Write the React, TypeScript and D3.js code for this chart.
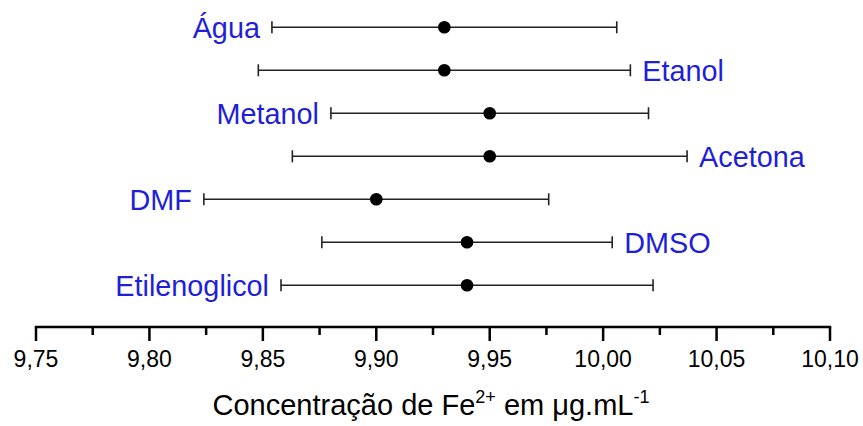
import React from "react";
import * as d3 from "d3";

// Fe2+ concentration measured in each solvent (µg/mL), with its uncertainty
const solvents = ["Água", "Etanol", "Metanol", "Acetona", "DMF", "DMSO", "Etilenoglicol"];
const means = [9.93, 9.93, 9.95, 9.95, 9.90, 9.94, 9.94];
const errors = [0.076, 0.082, 0.070, 0.087, 0.076, 0.064, 0.082];
const labelSides = ["left", "right", "left", "right", "left", "right", "left"];

const majorTicks = [9.75, 9.8, 9.85, 9.9, 9.95, 10.0, 10.05, 10.1];
const minorTicks = [9.775, 9.825, 9.875, 9.925, 9.975, 10.025, 10.075];

const W = 863;
const H = 426;
const LABEL_FONT = "'Liberation Sans', Arial, sans-serif";
const BLUE = "#1f1fd8";

const ptBR = d3.formatLocale({ decimal: ",", thousands: ".", grouping: [3], currency: ["R$", ""] });
const fmt = ptBR.format(".2f");

export default function App() {
  const x = d3.scaleLinear().domain([9.75, 10.1]).range([36, 830]);
  const y = d3.scalePoint<string>().domain(solvents).range([27.3, 285.3]);
  const axisY = 327;

  return (
    <svg
      width={W}
      height={H}
      style={{ position: "absolute", left: 0, top: 0, background: "#fff" }}
      fontFamily={LABEL_FONT}
    >
      {solvents.map((s, i) => {
        const cy = y(s) as number;
        const lo = x(means[i] - errors[i]);
        const hi = x(means[i] + errors[i]);
        const left = labelSides[i] === "left";
        return (
          <g key={s}>
            <line x1={lo} x2={hi} y1={cy} y2={cy} stroke="#222" strokeWidth={1.6} />
            <line x1={lo} x2={lo} y1={cy - 6} y2={cy + 6} stroke="#222" strokeWidth={1.6} />
            <line x1={hi} x2={hi} y1={cy - 6} y2={cy + 6} stroke="#222" strokeWidth={1.6} />
            <circle cx={x(means[i])} cy={cy} r={6.3} fill="#000" />
            <text
              x={left ? lo - 12 : hi + 12}
              y={cy + 11}
              textAnchor={left ? "end" : "start"}
              fontSize={28.8}
              fill={BLUE}
            >
              {s}
            </text>
          </g>
        );
      })}

      {/* bottom axis */}
      <line x1={x(9.75) - 1.2} x2={x(10.1) + 1.2} y1={axisY} y2={axisY} stroke="#000" strokeWidth={2.5} />
      {majorTicks.map((t) => (
        <g key={"M" + t}>
          <line x1={x(t)} x2={x(t)} y1={axisY} y2={axisY + 14} stroke="#000" strokeWidth={2.5} />
          <text x={x(t)} y={367} textAnchor="middle" fontSize={23} fill="#000">
            {fmt(t)}
          </text>
        </g>
      ))}
      {minorTicks.map((t) => (
        <line key={"m" + t} x1={x(t)} x2={x(t)} y1={axisY} y2={axisY + 8} stroke="#000" strokeWidth={2.5} />
      ))}

      <text x={431} y={415} textAnchor="middle" fontSize={29} fill="#000">
        Concentração de Fe
        <tspan dy={-12} fontSize={18}>2+</tspan>
        <tspan dy={12}> em μg.mL</tspan>
        <tspan dy={-12} fontSize={18}>-1</tspan>
      </text>
    </svg>
  );
}
